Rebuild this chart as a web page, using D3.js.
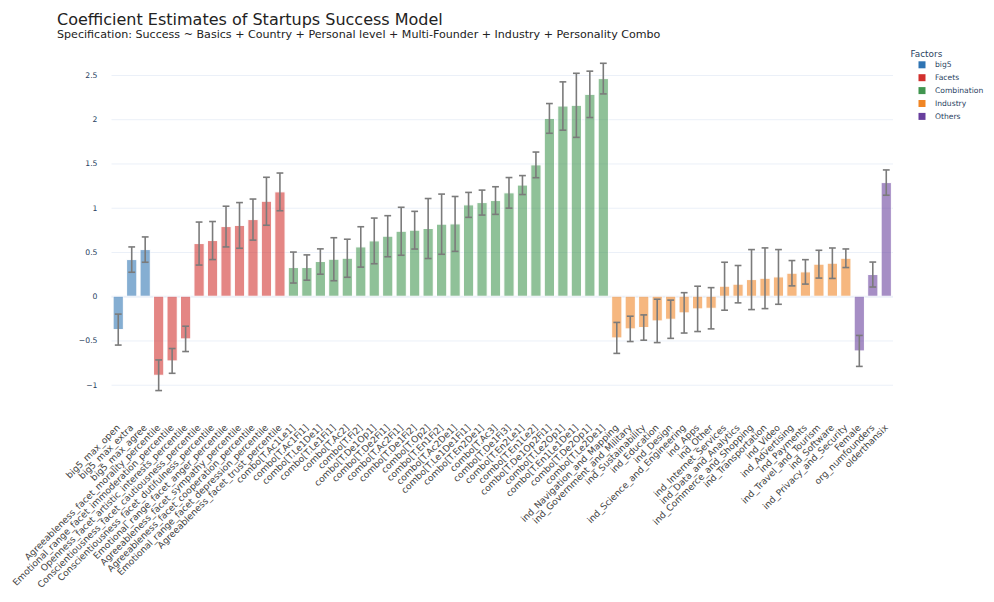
<!DOCTYPE html>
<html>
<head>
<meta charset="utf-8">
<script src="https://cdn.jsdelivr.net/npm/d3@7"></script>
<style>
  body { margin: 0; background: #fff; }
  text { font-family: "DejaVu Sans", Verdana, sans-serif; }
</style>
</head>
<body>
<div id="chart"></div>
<script>
// coefficient names, in plotted order
var categories = [
  "big5_max_open", "big5_max_extra", "big5_max_agree",
  "Agreeableness_facet_morality_percentile", "Emotional_range_facet_immoderation_percentile",
  "Openness_facet_artistic_interests_percentile", "Conscientiousness_facet_cautiousness_percentile",
  "Conscientiousness_facet_dutifulness_percentile", "Emotional_range_facet_anger_percentile",
  "Agreeableness_facet_sympathy_percentile", "Agreeableness_facet_cooperation_percentile",
  "Emotional_range_facet_depression_percentile", "Agreeableness_facet_trust_percentile",
  "combo[T.Ac1Le1]", "combo[T.Ac1Fi1]", "combo[T.Le1De1]", "combo[T.Le1Fi1]", "combo[T.Ac2]",
  "combo[T.Fi2]", "combo[T.De1Op1]", "combo[T.De2Fi1]", "combo[T.Ac2Fi1]", "combo[T.De1Fi2]",
  "combo[T.Op2]", "combo[T.En1Fi2]", "combo[T.Ac2De1]", "combo[T.Le1De1Fi1]", "combo[T.En2De1]",
  "combo[T.Ac3]", "combo[T.De1Fi3]", "combo[T.En2Le1]", "combo[T.En1Le2]", "combo[T.De1Op2Fi1]",
  "combo[T.Le2Op1]", "combo[T.En1Le1De1]", "combo[T.De2Op1]", "combo[T.Le2De1]",
  "ind_Navigation_and_Mapping", "ind_Government_and_Military", "ind_Sustainability",
  "ind_Education", "ind_Design", "ind_Science_and_Engineering", "ind_Apps", "ind_Other",
  "ind_Internet_Services", "ind_Data_and_Analytics", "ind_Commerce_and_Shopping",
  "ind_Transportation", "ind_Video", "ind_Advertising", "ind_Payments", "ind_Travel_and_Tourism",
  "ind_Software", "ind_Privacy_and_Security",
  "Female", "org_numfounders", "olderthansix"
];

var estimates = [
  -0.377, 0.414, 0.527,
  -0.893, -0.731, -0.482, 0.595, 0.629, 0.787, 0.80, 0.866, 1.073, 1.179,
  0.324, 0.324, 0.392, 0.418, 0.429, 0.557, 0.625, 0.678, 0.734, 0.746, 0.765, 0.814,
  0.817, 1.032, 1.058, 1.081, 1.168, 1.256, 1.484, 2.009, 2.149, 2.157, 2.281, 2.459,
  -0.471, -0.369, -0.354, -0.279, -0.26, -0.188, -0.143, -0.136, 0.113, 0.136, 0.188,
  0.203, 0.218, 0.26, 0.275, 0.362, 0.373, 0.429,
  -0.618, 0.245, 1.284
];

// half width of the error bar
var errors = [
  0.175, 0.143, 0.143,
  0.173, 0.14, 0.143, 0.243, 0.215, 0.23, 0.258, 0.232, 0.271, 0.213,
  0.175, 0.143, 0.143, 0.243, 0.215, 0.228, 0.258, 0.232, 0.271, 0.213, 0.339, 0.34,
  0.31, 0.141, 0.141, 0.156, 0.173, 0.107, 0.145, 0.168, 0.273, 0.362, 0.262, 0.173,
  0.175, 0.143, 0.143, 0.245, 0.216, 0.228, 0.256, 0.233, 0.271, 0.211, 0.339,
  0.343, 0.309, 0.143, 0.138, 0.157, 0.172, 0.105,
  0.175, 0.141, 0.143
];

var factorNames = ["big5", "Facets", "Combination", "Industry", "Others"];
var factorSizes = [3, 10, 24, 18, 3];
var factorColors = ["#2f74b3", "#d2302d", "#40954f", "#f08524", "#673e9d"];

var yTicks = [-1, -0.5, 0, 0.5, 1, 1.5, 2, 2.5];
var yTickLabels = ["\u22121", "\u22120.5", "0", "0.5", "1", "1.5", "2", "2.5"];

// which factor each bar belongs to
var factorOf = [];
factorSizes.forEach(function(n, i) { for (var k = 0; k < n; k++) factorOf.push(factorNames[i]); });

var data = categories.map(function(c, i) {
  return { name: c, est: estimates[i], err: errors[i], factor: factorOf[i] };
});

var W = 994, H = 602;
var plot = { left: 111.5, right: 893, top: 57, bottom: 398 };

var svg = d3.select("#chart").append("svg")
  .attr("width", W).attr("height", H);

var x = d3.scaleBand()
  .domain(categories)
  .range([plot.left, plot.right])
  .paddingInner(0.24)
  .paddingOuter(0.12);

var y = d3.scaleLinear()
  .domain([-1.15, 2.703])
  .range([plot.bottom, plot.top]);

var color = d3.scaleOrdinal().domain(factorNames).range(factorColors);

// gridlines + y labels
var yAxis = svg.append("g")
  .attr("transform", "translate(" + plot.left + ",0)")
  .call(d3.axisLeft(y).tickValues(yTicks)
    .tickFormat(function(d, i) { return yTickLabels[i]; })
    .tickSize(-(plot.right - plot.left)).tickPadding(14));
yAxis.select(".domain").remove();
yAxis.selectAll("line").attr("stroke", "#ebf0f8").attr("stroke-width", 1);
yAxis.selectAll("text")
  .style("font-size", "7.7px")
  .attr("fill", "#2a3f5f");
// zero line a little heavier
yAxis.selectAll(".tick").filter(function(d) { return d === 0; })
  .select("line").attr("stroke-width", 2);

// bars
svg.append("g").selectAll("rect")
  .data(data)
  .enter()
  .append("rect")
  .attr("x", function(d) { return x(d.name); })
  .attr("width", x.bandwidth())
  .attr("y", function(d) { return y(Math.max(0, d.est)); })
  .attr("height", function(d) { return Math.abs(y(d.est) - y(0)); })
  .attr("fill", function(d) { return color(d.factor); })
  .attr("stroke", "#fff")
  .attr("stroke-width", 1)
  .attr("opacity", 0.58);

// error bars
var eb = svg.append("g").selectAll("g")
  .data(data)
  .enter()
  .append("g")
  .attr("transform", function(d) { return "translate(" + (x(d.name) + x.bandwidth() / 2) + ",0)"; })
  .attr("stroke", "#7b7b7b")
  .attr("stroke-width", 1.6);
eb.append("line")
  .attr("y1", function(d) { return y(d.est + d.err); })
  .attr("y2", function(d) { return y(d.est - d.err); });
eb.append("line")
  .attr("x1", -3.4).attr("x2", 3.4)
  .attr("y1", function(d) { return y(d.est + d.err); })
  .attr("y2", function(d) { return y(d.est + d.err); });
eb.append("line")
  .attr("x1", -3.4).attr("x2", 3.4)
  .attr("y1", function(d) { return y(d.est - d.err); })
  .attr("y2", function(d) { return y(d.est - d.err); });

// x labels, rotated
var xAxis = svg.append("g")
  .attr("transform", "translate(0," + plot.bottom + ")")
  .call(d3.axisBottom(x).tickSize(0));
xAxis.select(".domain").remove();
xAxis.selectAll("text")
  .attr("x", 0).attr("y", 0)
  .attr("dy", "0.35em")
  .attr("transform", "translate(0,28) rotate(-45)")
  .style("text-anchor", "end")
  .style("font-size", "9.15px")
  .attr("fill", "#444");

// title
svg.append("text")
  .attr("x", 57).attr("y", 25)
  .style("font-size", "16px")
  .attr("fill", "#222")
  .text("Coefficient Estimates of Startups Success Model");
svg.append("text")
  .attr("x", 57).attr("y", 37.5)
  .style("font-size", "11.1px")
  .attr("fill", "#222")
  .text("Specification: Success ~ Basics + Country + Personal level + Multi-Founder + Industry + Personality Combo");

// legend
var legend = svg.append("g").attr("transform", "translate(910.5,0)");
legend.append("text")
  .attr("x", 0).attr("y", 56.5)
  .style("font-size", "8.9px")
  .attr("fill", "#2a3f5f")
  .text("Factors");
var item = legend.selectAll(".item")
  .data(factorNames)
  .enter()
  .append("g")
  .attr("class", "item")
  .attr("transform", function(d, i) { return "translate(0," + (64.8 + i * 12.9) + ")"; });
item.append("rect")
  .attr("x", 8).attr("y", -3.5)
  .attr("width", 7).attr("height", 7)
  .attr("fill", function(d) { return color(d); });
item.append("text")
  .attr("x", 24.5).attr("y", 0)
  .attr("dy", "0.35em")
  .style("font-size", "7.6px")
  .attr("fill", "#2a3f5f")
  .text(function(d) { return d; });
</script>
</body>
</html>
